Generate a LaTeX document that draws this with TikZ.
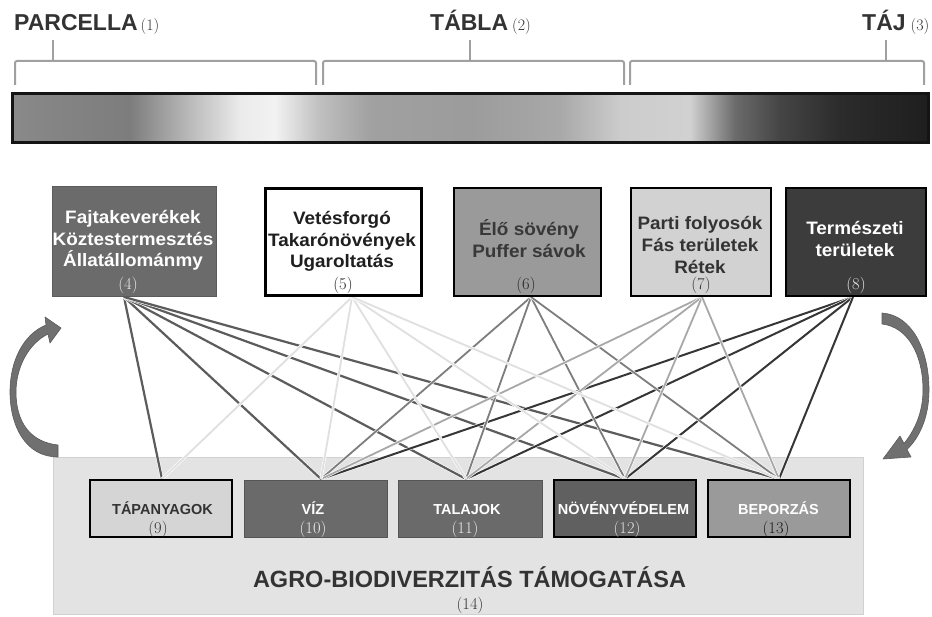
\documentclass[tikz,border=0pt]{standalone}
\usepackage{fontspec}
\newfontfamily\lab{Liberation Sans}[FakeStretch=1.05]
\newfontfamily\labn{Liberation Sans}
\newcommand\hdrnum{\rmfamily\mdseries\fontsize{16}{18}\selectfont}
\pgfdeclarehorizontalshading{scalebar}{100bp}{%
rgb(0bp)=(.54,.54,.54); rgb(25bp)=(.54,.54,.54); rgb(27.05bp)=(.52,.52,.52);
rgb(31.45bp)=(.49,.49,.49); rgb(34.15bp)=(.69,.69,.69); rgb(37.45bp)=(.92,.92,.92);
rgb(39.35bp)=(.95,.95,.95); rgb(41.8bp)=(.75,.75,.75); rgb(44.55bp)=(.63,.63,.63);
rgb(50bp)=(.61,.61,.61); rgb(54.9bp)=(.66,.66,.66); rgb(58.2bp)=(.80,.80,.80);
rgb(62bp)=(.82,.82,.82); rgb(64.45bp)=(.42,.42,.42); rgb(66.9bp)=(.27,.27,.27);
rgb(70.2bp)=(.17,.17,.17); rgb(75bp)=(.12,.12,.12); rgb(100bp)=(.12,.12,.12)}
\definecolor{c4}{HTML}{6B6B6B}
\definecolor{c6}{HTML}{9A9A9A}
\definecolor{c7}{HTML}{D2D2D2}
\definecolor{c8}{HTML}{3C3C3C}
\definecolor{c9}{HTML}{D5D5D5}
\definecolor{c10}{HTML}{6A6A6A}
\definecolor{c12}{HTML}{606060}
\definecolor{c13}{HTML}{9A9A9A}
\definecolor{bgc}{HTML}{E3E3E3}
\definecolor{brk}{HTML}{A0A0A0}
\definecolor{arr}{HTML}{707070}
\definecolor{ln4}{HTML}{5C5C5C}
\definecolor{ln5}{HTML}{E0E0E0}
\definecolor{ln6}{HTML}{7D7D7D}
\definecolor{ln7}{HTML}{A8A8A8}
\definecolor{ln8}{HTML}{363636}
\definecolor{txd}{HTML}{333333}
\tikzset{
 hdr/.style={inner sep=0, anchor=base west, font=\labn\bfseries\fontsize{23}{26}\selectfont, text=txd},
 brack/.style={draw=brk, line width=2pt, rounded corners=2pt},
 tbox/.style={inner sep=0, minimum height=108pt},
 bbox/.style={inner sep=0, minimum height=57pt, minimum width=142pt},
 lbl/.style={inner sep=0, anchor=base, font=\lab\bfseries\fontsize{18}{20}\selectfont},
 blbl/.style={inner sep=0, anchor=base, font=\labn\bfseries\fontsize{14.5}{16}\selectfont},
 num/.style={inner sep=0, anchor=base, font=\rmfamily\fontsize{16.5}{18}\selectfont},
 l4/.style={draw=ln4, line width=2.2pt, preaction={draw=white, line width=3.4pt}},
 l5/.style={draw=ln5, line width=1.8pt, preaction={draw=white, line width=3pt}},
 l6/.style={draw=ln6, line width=1.8pt, preaction={draw=white, line width=3pt}},
 l7/.style={draw=ln7, line width=1.8pt, preaction={draw=white, line width=3pt}},
 l8/.style={draw=ln8, line width=2pt, preaction={draw=white, line width=3.2pt}},
 carrow/.style={fill=arr, draw=arr!80!black, line width=0.6pt, line join=round},
}
\begin{document}
\begin{tikzpicture}[x=1pt,y=-1pt]
\useasboundingbox[fill=white] (0,0) rectangle (932,617);

% header labels
\node[hdr] (h1) at (14,31) {PARCELLA\hspace{3pt}{\hdrnum (1)}};
\node[hdr] (h2) at (430,31) {TÁBLA\hspace{4pt}{\hdrnum (2)}};
\node[hdr] (h3) at (862,31) {TÁJ\hspace{5pt}{\hdrnum (3)}};

% brackets
\draw[brack] (15,85) |- (316,61) -- (316,85);
\draw[brk, line width=2pt] (53,61) -- (53,40);
\draw[brack] (323,85) |- (624,61) -- (624,85);
\draw[brk, line width=2pt] (470,61) -- (470,40);
\draw[brack] (630,85) |- (924,61) -- (924,85);
\draw[brk, line width=2pt] (886,61) -- (886,40);

% gradient bar
\node[inner sep=0, minimum width=916pt, minimum height=49pt, shading=scalebar,
      draw=black!92, line width=3pt] (bar) at (470,118.5) {};

% bottom background
\node[inner sep=0, fill=bgc, draw=black!18, line width=1pt, minimum width=810pt, minimum height=156pt] (bg) at (458,536) {};

% connector end points
\coordinate (s4) at (124,297);
\coordinate (s5) at (352,297);
\coordinate (s6) at (531,297);
\coordinate (s7) at (702,297);
\coordinate (s8) at (853,297);
\coordinate (t9) at (162,479);
\coordinate (t10) at (321,479);
\coordinate (t11) at (466,479);
\coordinate (t12) at (625,479);
\coordinate (t13) at (779,479);

% connectors
\foreach \t in {9,10,11,12,13} \draw[l4] (s4) -- (t\t);
\foreach \t in {10,11,12,13} \draw[l8] (s8) -- (t\t);
\foreach \t in {10,11,12,13} \draw[l6] (s6) -- (t\t);
\foreach \t in {10,11,12,13} \draw[l7] (s7) -- (t\t);
\foreach \t in {9,10,11,12,13} \draw[l5] (s5) -- (t\t);

% top boxes
\node[tbox, fill=c4, draw=c4!85!black, line width=1pt, minimum width=164pt, minimum height=110pt] (b4) at (134,242) {};
\node[tbox, fill=white, draw=black, line width=3pt, minimum width=156pt, minimum height=107pt] (b5) at (343,242) {};
\node[tbox, fill=c6, draw=black, line width=2pt, minimum width=147pt] (b6) at (527,242) {};
\node[tbox, fill=c7, draw=black, line width=2pt, minimum width=140pt] (b7) at (700.5,242) {};
\node[tbox, fill=c8, draw=black, line width=2pt, minimum width=140pt] (b8) at (855.5,242) {};

% top box texts
\node[lbl, text=white] (b4a) at (133,224) {Fajtakeverékek};
\node[lbl, text=white] (b4b) at (133,246) {Köztestermesztés};
\node[lbl, text=white] (b4c) at (133,267) {Állatállománmy};
\node[num, text=black!8] (n4) at (128,290) {(4)};

\node[lbl, text=black!88] (b5a) at (342,225) {Vetésforgó};
\node[lbl, text=black!88] (b5b) at (342,247) {Takarónövények};
\node[lbl, text=black!88] (b5c) at (342,268) {Ugaroltatás};
\node[num, text=black!88] (n5) at (343,290) {(5)};

\node[lbl, text=black!78] (b6a) at (529,236) {Élő sövény};
\node[lbl, text=black!78] (b6b) at (529,258) {Puffer sávok};
\node[num, text=black!85] (n6) at (526,290) {(6)};

\node[lbl, text=txd] (b7a) at (700,230) {Parti folyosók};
\node[lbl, text=txd] (b7b) at (700,252) {Fás területek};
\node[lbl, text=txd] (b7c) at (700,274) {Rétek};
\node[num, text=txd] (n7) at (701,290) {(7)};

\node[lbl, text=white] (b8a) at (855,235) {Természeti};
\node[lbl, text=white] (b8b) at (855,257) {területek};
\node[num, text=black!8] (n8) at (856,290) {(8)};

% bottom boxes
\node[bbox, fill=c9, draw=black, line width=2.5pt] (b9) at (161,508.5) {};
\node[bbox, fill=c10, draw=c10!80!black, line width=1pt, minimum width=143pt] (b10) at (315.5,508.5) {};
\node[bbox, fill=c10, draw=c10!80!black, line width=1pt, minimum width=144pt] (b11) at (470,508.5) {};
\node[bbox, fill=c12, draw=black, line width=2pt] (b12) at (625,508.5) {};
\node[bbox, fill=c13, draw=black, line width=2pt] (b13) at (779,508.5) {};

\node[blbl, text=txd] (b9a) at (162.5,514) {TÁPANYAGOK};
\node[num, text=txd] (n9) at (158,533) {(9)};
\node[blbl, text=white] (b10a) at (313,514) {VÍZ};
\node[num, text=black!6] (n10) at (313,533) {(10)};
\node[blbl, text=white] (b11a) at (467,514) {TALAJOK};
\node[num, text=black!8] (n11) at (465,533) {(11)};
\node[blbl, text=white] (b12a) at (623.5,514) {NÖVÉNYVÉDELEM};
\node[num, text=black!12] (n12) at (627,533) {(12)};
\node[blbl, text=white] (b13a) at (778.5,514) {BEPORZÁS};
\node[num, text=black!90] (n13) at (776,533) {(13)};

% bottom title
\node[inner sep=0, anchor=base, font=\labn\bfseries\fontsize{23.5}{26}\selectfont, text=txd] (ttl) at (469.5,587) {AGRO-BIODIVERZITÁS TÁMOGATÁSA};
\node[num, text=txd] (n14) at (470,609.5) {(14)};

% curved arrows
\path[carrow] (58,445) -- (58,457)
  .. controls (25,457) and (10,425) .. (10,392)
  .. controls (10,360) and (24,334) .. (46,325)
  -- (45,317) -- (61,328) -- (50,343) -- (48,334)
  .. controls (28,344) and (16,368) .. (16,392)
  .. controls (16,422) and (30,442) .. (58,445) -- cycle;
\path[carrow] (882,313)
  .. controls (912,315) and (929,350) .. (929,390)
  .. controls (929,418) and (919,438) .. (907,449.5)
  -- (911,457) -- (883,459) -- (900,436) -- (904,443.5)
  .. controls (915,430) and (923,412) .. (923,390)
  .. controls (923,355) and (908,327) .. (882,324) -- cycle;
\end{tikzpicture}
\end{document}
